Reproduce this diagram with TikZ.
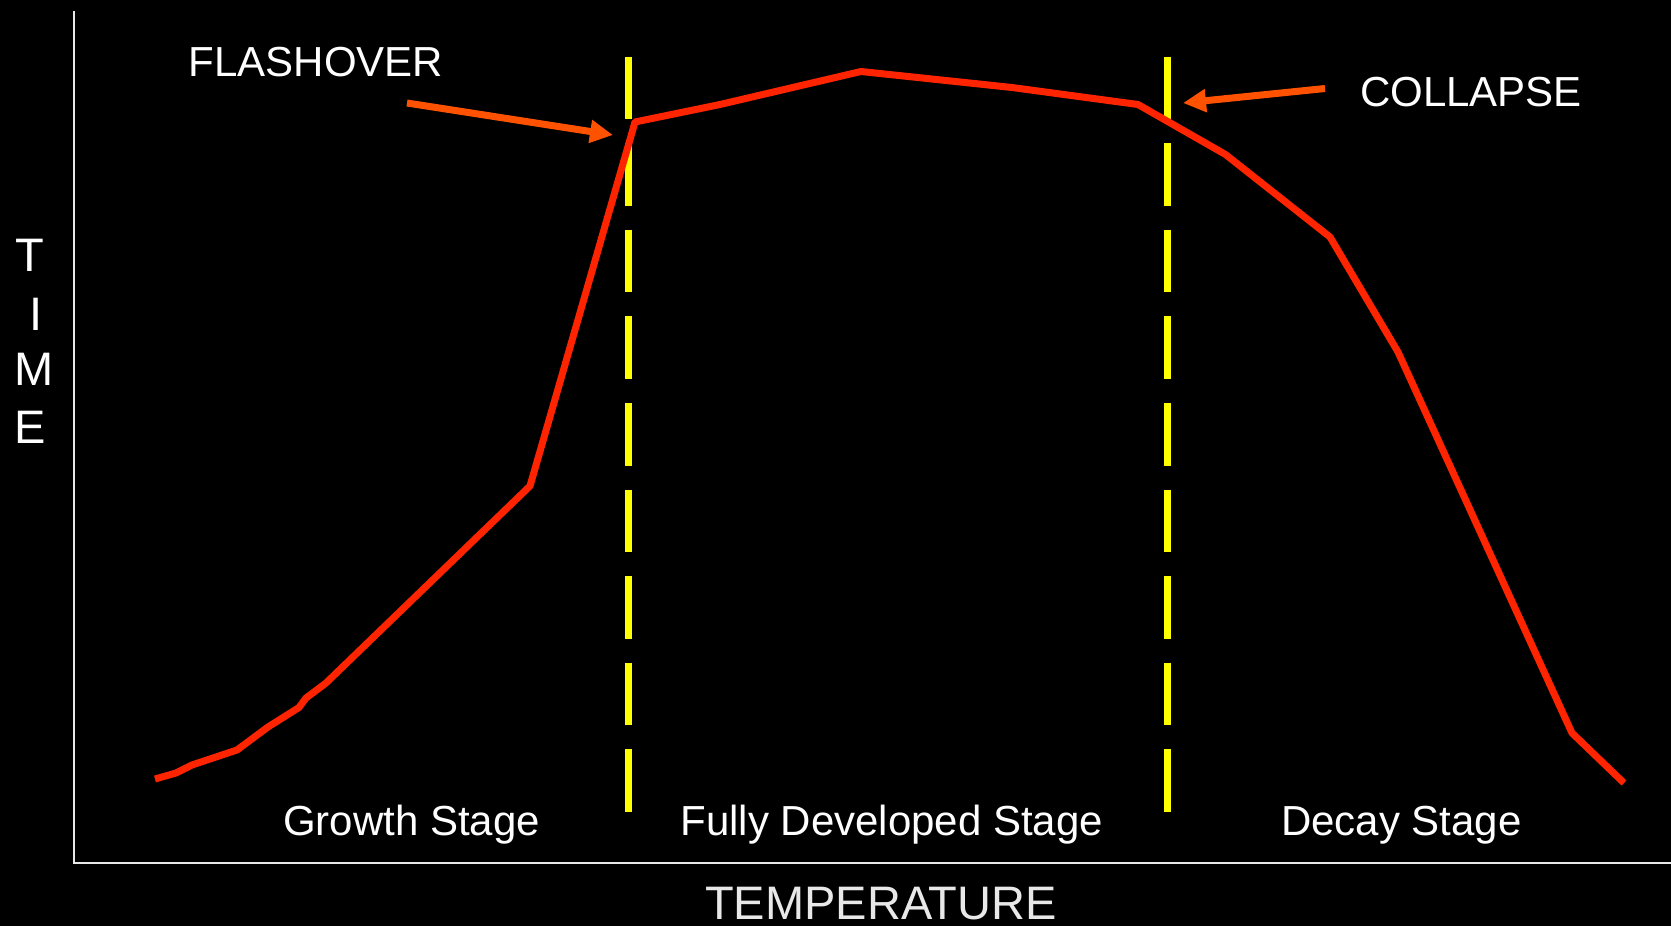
\documentclass[tikz,border=0pt]{standalone}
\usepackage{fontspec}
\setmainfont{Liberation Sans}
\usetikzlibrary{arrows.meta}
\definecolor{curvered}{HTML}{FF2400}
\definecolor{arroworange}{HTML}{FF5200}
\definecolor{dashyellow}{HTML}{FFFF00}
\definecolor{axisgray}{HTML}{E8E8E8}
\tikzset{
  lbl/.style={text=white, inner sep=0pt, font=\fontsize{42}{50}\selectfont},
  biglbl/.style={text=axisgray, inner sep=0pt, font=\fontsize{47}{56}\selectfont},
  axisline/.style={draw=axisgray, line width=2pt},
  stageline/.style={draw=dashyellow, line width=7pt, dash pattern=on 62.6pt off 24pt},
  firecurve/.style={draw=curvered, line width=7pt, line join=round},
  pointer/.style={draw=arroworange, line width=7pt, -{Triangle[length=23pt,width=22pt]}, shorten >=0pt}
}
\begin{document}
\begin{tikzpicture}[x=1pt,y=-1pt]
\fill[black] (0,0) rectangle (1671,926);
\useasboundingbox (0,0) rectangle (1671,926);

% axes
\coordinate (ytop) at (74,11);
\coordinate (origin) at (74,863);
\coordinate (xend) at (1671,863);
\draw[axisline] (ytop) -- (origin) -- (xend);

% stage separators
\coordinate (d1top) at (628.5,56.5);
\coordinate (d1bot) at (628.5,816);
\coordinate (d2top) at (1167,56.5);
\coordinate (d2bot) at (1167,816);
\draw[stageline] (d1top) -- (d1bot);
\draw[stageline] (d2top) -- (d2bot);

% fire curve
\draw[firecurve] (155,779) -- (176,773) -- (192,765) -- (237,750) -- (268,727)
  -- (299,707.5) -- (306,698) -- (326,683) -- (530,486) -- (629,143) -- (635,122)
  -- (720,104.5) -- (861,71.5) -- (1012,87.5) -- (1138,104.5) -- (1225.5,154.5)
  -- (1330,237) -- (1398,352) -- (1572,733) -- (1624,783);

% labels
\node[lbl, anchor=base] (flash) at (316,76.7) {FLASHOVER};
\node[lbl, anchor=base] (collapse) at (1471,106.7) {COLLAPSE};
\node[lbl, anchor=base] (growth) at (411.5,835) {Growth Stage};
\node[lbl, anchor=base] (full) at (891.7,835) {Fully Developed Stage};
\node[lbl, anchor=base] (decay) at (1401.5,835) {Decay Stage};
\node[biglbl, anchor=base] (temp) at (881,919) {TEMPERATURE};
\node[biglbl, text=white, anchor=base west] (tT) at (15,271.7) {T};
\node[biglbl, text=white, anchor=base west] (tI) at (29,330) {I};
\node[biglbl, text=white, anchor=base west] (tM) at (14,385) {M};
\node[biglbl, text=white, anchor=base west] (tE) at (14,443) {E};

% pointers
\coordinate (fa) at (407,103);
\coordinate (fb) at (613,135);
\coordinate (ca) at (1325,88.5);
\coordinate (cb) at (1183,103);
\draw[pointer] (fa) -- (fb);
\draw[pointer] (ca) -- (cb);
\end{tikzpicture}
\end{document}
